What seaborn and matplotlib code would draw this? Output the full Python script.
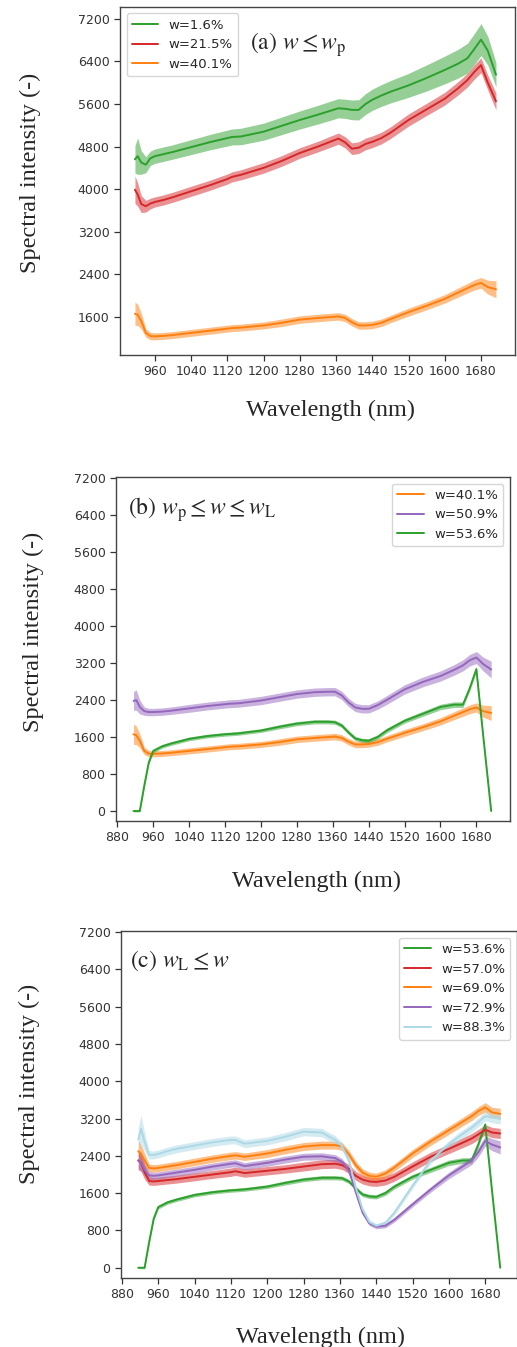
import numpy as np
import matplotlib
matplotlib.use("Agg")
import matplotlib.pyplot as plt
import seaborn as sns
from matplotlib.ticker import MultipleLocator

sns.set_style("ticks")
plt.rcParams["font.family"] = ["DejaVu Sans"]
plt.rcParams["mathtext.fontset"] = "stix"

# ---------------- data ----------------
WL = [916, 922, 930, 940, 950, 960, 980, 1000, 1040, 1080, 1120, 1130, 1150, 1200, 1240,
      1280, 1320, 1350, 1365, 1380, 1395, 1410, 1425, 1440, 1460, 1480, 1520, 1560, 1600,
      1630, 1650, 1665, 1680, 1695, 1713]

w016 = [4560, 4620, 4500, 4460, 4580, 4620, 4660, 4700, 4790, 4880, 4960, 4980, 4990, 5080, 5190,
        5300, 5400, 5480, 5520, 5510, 5490, 5490, 5600, 5680, 5760, 5830, 5950, 6090, 6240,
        6360, 6460, 6630, 6810, 6600, 6150]
w016_hw = [260, 340, 220, 150, 135, 135, 135, 135, 140, 145, 150, 150, 155, 160, 165,
           170, 175, 180, 180, 180, 185, 190, 195, 200, 205, 210, 225, 245, 260,
           270, 280, 290, 300, 270, 230]

w215 = [3990, 3900, 3720, 3680, 3730, 3760, 3800, 3850, 3960, 4070, 4190, 4230, 4270, 4400, 4530,
        4680, 4800, 4900, 4950, 4880, 4760, 4780, 4850, 4890, 4960, 5060, 5300, 5500, 5700,
        5900, 6050, 6200, 6330, 6000, 5650]
w215_hw = [260, 220, 160, 110, 100, 95, 95, 95, 95, 95, 95, 95, 95, 100, 100,
           100, 100, 105, 105, 105, 110, 110, 110, 110, 110, 110, 115, 115, 120,
           125, 130, 135, 140, 140, 160]

w401 = [1660, 1640, 1520, 1300, 1240, 1235, 1245, 1260, 1300, 1340, 1380, 1390, 1400, 1440, 1490,
        1550, 1580, 1600, 1610, 1580, 1500, 1440, 1440, 1450, 1490, 1560, 1690, 1810, 1940,
        2060, 2140, 2200, 2240, 2160, 2120]
w401_hw = [220, 200, 150, 80, 70, 65, 65, 65, 65, 65, 65, 65, 65, 65, 70,
           70, 70, 70, 70, 70, 70, 70, 70, 70, 70, 70, 75, 75, 80,
           85, 90, 95, 100, 130, 160]

w509 = [2380, 2400, 2250, 2160, 2140, 2140, 2150, 2170, 2220, 2270, 2310, 2320, 2330, 2390, 2460,
        2530, 2570, 2580, 2580, 2500, 2350, 2240, 2210, 2210, 2290, 2400, 2630, 2790, 2920,
        3050, 3150, 3260, 3320, 3180, 3060]
w509_hw = [200, 220, 150, 90, 80, 80, 80, 80, 85, 85, 85, 85, 85, 90, 90,
           90, 90, 90, 90, 90, 90, 90, 90, 90, 90, 95, 100, 105, 110,
           115, 120, 125, 130, 150, 180]

w536 = [0, 0, 0, 550, 1050, 1300, 1400, 1460, 1560, 1620, 1660, 1665, 1680, 1740, 1820,
        1890, 1930, 1930, 1920, 1850, 1700, 1570, 1530, 1520, 1600, 1740, 1950, 2100, 2250,
        2300, 2300, 2650, 3070, 1650, 0]
w536_hw = [20, 20, 20, 40, 40, 40, 40, 40, 40, 40, 40, 40, 40, 40, 45,
           45, 45, 45, 45, 45, 45, 45, 45, 45, 50, 50, 50, 55, 60,
           60, 60, 60, 60, 40, 30]

w570 = [2300, 2250, 2050, 1860, 1850, 1860, 1880, 1900, 1950, 2000, 2050, 2070, 2030, 2080, 2120,
        2170, 2220, 2230, 2200, 2120, 1970, 1890, 1850, 1840, 1870, 1950, 2170, 2380, 2550,
        2680, 2770, 2860, 2960, 2900, 2880]
w570_hw = [200, 180, 150, 90, 85, 85, 85, 85, 85, 85, 90, 90, 90, 90, 90,
           95, 95, 95, 95, 95, 95, 95, 95, 95, 95, 95, 100, 100, 100,
           105, 110, 110, 110, 110, 110]

w690 = [2500, 2450, 2300, 2140, 2130, 2140, 2170, 2200, 2270, 2340, 2400, 2410, 2380, 2450, 2530,
        2600, 2630, 2630, 2600, 2430, 2200, 2040, 1970, 1950, 2020, 2150, 2450, 2710, 2950,
        3130, 3250, 3360, 3440, 3330, 3300]
w690_hw = [220, 200, 150, 85, 80, 80, 80, 80, 80, 80, 80, 80, 80, 85, 85,
           85, 85, 85, 85, 85, 85, 80, 80, 80, 80, 80, 85, 85, 90,
           90, 95, 95, 100, 110, 120]

w729 = [2300, 2250, 2100, 1980, 1970, 1980, 2010, 2040, 2100, 2170, 2230, 2240, 2180, 2250, 2320,
        2380, 2390, 2350, 2270, 2080, 1620, 1180, 950, 880, 900, 1030, 1360, 1680, 1980,
        2170, 2300, 2480, 2720, 2640, 2580]
w729_hw = [180, 170, 130, 80, 75, 75, 75, 75, 75, 75, 75, 75, 75, 75, 75,
           75, 75, 75, 70, 60, 50, 45, 45, 45, 45, 50, 55, 60, 70,
           80, 90, 100, 110, 130, 140]

w883 = [2750, 2980, 2700, 2420, 2420, 2440, 2500, 2550, 2620, 2690, 2740, 2740, 2660, 2720, 2810,
        2920, 2900, 2740, 2600, 2300, 1720, 1250, 980, 900, 960, 1180, 1760, 2300, 2650,
        2870, 3000, 3120, 3250, 3220, 3200]
w883_hw = [250, 300, 200, 90, 85, 85, 85, 85, 85, 85, 85, 85, 85, 85, 90,
           90, 90, 90, 90, 80, 60, 50, 45, 45, 45, 50, 60, 70, 80,
           85, 90, 95, 100, 110, 120]

GREEN, RED, ORANGE, PURPLE, LBLUE = "#2ca02c", "#d62728", "#ff7f0e", "#9467bd", "#add8e6"

panels = [
    dict(rect=[0.2321, 0.7365, 0.7640, 0.2584], xlim=(883, 1755), ylim=(886, 7425),
         series=[("w=1.6%", w016, w016_hw, GREEN), ("w=21.5%", w215, w215_hw, RED),
                 ("w=40.1%", w401, w401_hw, ORANGE)],
         legend="upper left", tag=r"(a) $w \leq w_{\rm p}$", tagpos=(0.329, 0.891),
         ylab=(-0.228, 0.523), xlab=(0.532, -0.158)),
    dict(rect=[0.2244, 0.3905, 0.7621, 0.2554], xlim=(877, 1755), ylim=(-216, 7225),
         series=[("w=40.1%", w401, w401_hw, ORANGE), ("w=50.9%", w509, w509_hw, PURPLE),
                 ("w=53.6%", w536, w536_hw, GREEN)],
         legend="upper right", tag=r"(b) $w_{\rm p} \leq w \leq w_{\rm L}$", tagpos=(0.030, 0.905),
         ylab=(-0.210, 0.549), xlab=(0.508, -0.177)),
    dict(rect=[0.2340, 0.0512, 0.7660, 0.2576], xlim=(878, 1750), ylim=(-221, 7221),
         series=[("w=53.6%", w536, w536_hw, GREEN), ("w=57.0%", w570, w570_hw, RED),
                 ("w=69.0%", w690, w690_hw, ORANGE), ("w=72.9%", w729, w729_hw, PURPLE),
                 ("w=88.3%", w883, w883_hw, LBLUE)],
         legend="upper right", tag=r"(c) $w_{\rm L} \leq w$", tagpos=(0.023, 0.915),
         ylab=(-0.230, 0.559), xlab=(0.503, -0.170)),
]

fig = plt.figure(figsize=(5.17, 13.47), dpi=100)

for p in panels:
    ax = fig.add_axes(p["rect"])
    for label, mean, hw, color in p["series"]:
        m = np.array(mean, dtype=float)
        h = np.array(hw, dtype=float)
        ax.fill_between(WL, m - h, m + h, color=color, alpha=0.5, linewidth=0)
        sns.lineplot(x=WL, y=m, color=color, label=label, ax=ax, linewidth=1.4)
    ax.set_xlim(*p["xlim"])
    ax.set_ylim(*p["ylim"])
    ax.xaxis.set_major_locator(MultipleLocator(80))
    ax.yaxis.set_major_locator(MultipleLocator(800))
    ax.tick_params(labelsize=9, colors="#333333", length=4, width=0.9)
    for s in ax.spines.values():
        s.set_visible(True)
        s.set_color("#444444")
        s.set_linewidth(1.0)
    ax.legend(loc=p["legend"], fontsize=9.5, handlelength=2.0)
    ax.text(p["tagpos"][0], p["tagpos"][1], p["tag"], transform=ax.transAxes,
            fontsize=17, family="STIXGeneral", va="center", ha="left")
    ax.set_ylabel("Spectral intensity (-)", fontsize=17.5, family="Liberation Serif", va="center")
    ax.yaxis.set_label_coords(*p["ylab"])
    ax.set_xlabel("Wavelength (nm)", fontsize=17.5, family="Liberation Serif", va="center")
    ax.xaxis.set_label_coords(*p["xlab"])

fig.savefig("out.png", dpi=100)
